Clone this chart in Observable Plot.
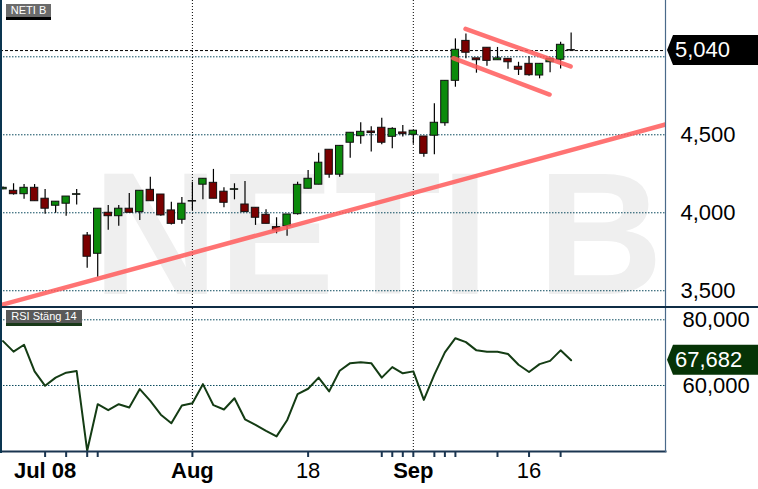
<!DOCTYPE html>
<html><head><meta charset="utf-8">
<script src="https://cdn.jsdelivr.net/npm/d3@7"></script>
<script src="https://cdn.jsdelivr.net/npm/@observablehq/plot@0.6"></script>
<style>
body{margin:0;background:#fff;font-family:"Liberation Sans",Arial,sans-serif;}
#wrap{position:relative;width:758px;height:489px;overflow:hidden;background:#fff;}
#wrap svg{display:block;position:absolute;left:0;}
.tag{position:absolute;color:#fff;font-size:11px;line-height:13px;height:13px;text-align:center;font-family:"Liberation Sans",Arial,sans-serif;}
#sep{position:absolute;left:0;top:306px;width:758px;height:2px;background:#0f2d45;}
</style></head><body><div id="wrap"></div>
<script>
const ticker = "NETI B";
const rsiName = "RSI Stäng 14";
// trading-day index 0..54
const open  = [4150,4141,4119,4160,4090,4045,4058,4115,3854,3737,4000,3978,4026,4004,4147,4117,4015,3955,4072,4180,4192,4135,4147,4053,4032,3987,3908,3914,3991,4154,4180,4404,4244,4449,4491,4521,4545,4487,4515,4500,4489,4494,4574,4846,5102,4990,5058,4978,4987,4936,4955,4880,4965,4981,5040];
const high  = [4165,4186,4181,4181,4149,4071,4104,4149,3874,4026,4047,4047,4124,4141,4228,4117,4068,4098,4196,4218,4278,4160,4186,4201,4032,4019,3968,3989,4196,4271,4382,4404,4429,4513,4577,4552,4606,4545,4560,4526,4489,4699,4846,5115,5147,4990,5058,5060,4987,4965,5000,4955,4990,5094,5152];
const low   = [4148,4113,4087,4074,3991,3997,3978,4049,3645,3587,3888,3914,3998,3951,4074,3978,3921,3927,4015,4083,4090,4032,4083,4004,3919,3929,3865,3850,3985,4154,4180,4222,4228,4350,4440,4390,4436,4411,4485,4440,4356,4372,4555,4805,4987,4895,4940,4978,4920,4880,4875,4859,4897,4921,5040];
const close = [4160,4119,4160,4074,4026,4071,4104,4119,3718,4026,3978,4026,4000,4141,4074,3983,3929,4058,4072,4218,4090,4064,4151,4004,3968,3929,3887,3989,4179,4218,4321,4244,4429,4513,4519,4511,4449,4538,4504,4526,4378,4577,4846,5045,5026,4978,4974,4990,4965,4917,4882,4955,4987,5077,5040];
const rsi = [73.5,70.3,72.4,64.3,59.9,62.4,63.9,64.4,40.1,54.3,52.5,54.3,53.3,58.9,55.3,51.1,48.5,53.9,54.6,60.4,54.0,52.7,56.1,49.7,48.0,46.2,44.5,49.4,57.4,59.0,62.4,58.2,64.5,66.8,67.1,66.8,62.4,65.6,63.7,64.3,55.6,63.3,70.1,74.4,73.2,70.7,70.3,70.3,69.6,66.3,64.1,66.5,67.5,70.7,67.682];
const priceGrid = [3500,4000,4500,5000];
const priceLabels = [3500,4000,4500];
const rsiTicks = [60,80];
const gridIdx = [18,39];
const tickIdx = [4,6,8,9,18,29,36,37,38,39,41,42,43,47,50,53];
const monthLabels = ["Jul 08","Aug","Sep"];
const monthIdx = [4,18,39];
const dayLabels = ["18","16"];
const dayIdx = [29,50];
const trendLong = [{i:-0.24,p:3408},{i:62.97,p:4566}];
const channelUpper = [{i:43.96,p:5179},{i:53.95,p:4938}];
const channelLower = [{i:42.8,p:4991},{i:51.95,p:4758}];

const idx = d3.range(open.length);
const candles = idx.map(i => ({i, o:open[i], h:high[i], l:low[i], c:close[i]}));
const lastClose = close[close.length-1];
const lastRsi = rsi[rsi.length-1];
const GREEN = "#0b8a0b", RED = "#7a0000";
const colorOf = d => d.c > d.o ? GREEN : d.c < d.o ? RED : "#000";
const fmtComma = d3.format(",");
const fmtDec = d => d3.format(".3f")(d).replace(".", ",");
const xDomain = [-0.24, 62.97];
const W = 758, MR = 93;
const FONT = "Liberation Sans, Arial, sans-serif";

function badge(value, fill, fmt) {
  return (index, scales, values, dimensions) => {
    const y = scales.y(value);
    const x0 = dimensions.width - dimensions.marginRight + 2;
    const g = d3.create("svg:g");
    g.append("path")
      .attr("d", `M${x0},${y} L${x0+6},${y-15} L${W},${y-15} L${W},${y+15} L${x0+6},${y+15} Z`)
      .attr("fill", fill);
    g.append("text").attr("x", x0+8).attr("y", y).attr("dy","0.33em")
      .attr("text-anchor","start")
      .attr("fill","#fff").attr("font-size",22).attr("font-family",FONT).text(fmt(value));
    return g.node();
  };
}

const trendStyle = {x:"i", y:"p", stroke:"#ff5a5a", strokeOpacity:0.85, strokeWidth:4.5, strokeLinecap:"round", clip:true};

const price = Plot.plot({
  width: W, height: 306, marginLeft: 0, marginRight: MR, marginTop: 0, marginBottom: 0,
  style: {fontFamily: FONT, background: "transparent"},
  x: {type: "linear", domain: xDomain, axis: null},
  y: {type: "linear", domain: [3399, 5361], axis: null},
  marks: [
    Plot.text([ticker], {frameAnchor: "middle", text: d => d, fontSize: 174, fontWeight: "bold", fill: "#efefef", dx: 45, dy: 85, clip: true}),
    Plot.ruleY(priceGrid, {stroke: "#0b4a5e", strokeDasharray: "1.5,1.5"}),
    Plot.ruleX(gridIdx, {stroke: "#000", strokeDasharray: "1,2"}),
    Plot.ruleY([lastClose], {stroke: "#000", strokeDasharray: "3,2"}),
    Plot.ruleX(candles, {x: "i", y1: "l", y2: "h", stroke: "#000", strokeWidth: 1.2, clip: true}),
    Plot.rect(candles, {x1: d => d.i - 0.35, x2: d => d.i + 0.35,
      y1: d => Math.min(d.o, d.c), y2: d => Math.max(d.o, d.c, Math.min(d.o, d.c) + 3),
      fill: colorOf, stroke: "#111", strokeWidth: 1, clip: true}),
    Plot.line(trendLong, trendStyle),
    Plot.line(channelUpper, trendStyle),
    Plot.line(channelLower, trendStyle),
    Plot.axisY(priceLabels, {anchor: "right", tickSize: 0, tickPadding: 15, tickFormat: fmtComma, fontSize: 22, fill: "#000"}),
    badge(lastClose, "#000", fmtComma),
    Plot.frame({anchor: "right", stroke: "#4a6a8a", strokeWidth: 1.2}),
    Plot.frame({anchor: "left", stroke: "#0a3550", strokeWidth: 3})
  ]
});

const rsiChart = Plot.plot({
  width: W, height: 181, marginLeft: 0, marginRight: MR, marginTop: 0, marginBottom: 38,
  style: {fontFamily: FONT, background: "transparent", overflow: "visible"},
  x: {type: "linear", domain: xDomain, axis: null},
  y: {type: "linear", domain: [39.9, 83.44], axis: null},
  marks: [
    Plot.ruleY(rsiTicks, {stroke: "#0b4a5e", strokeDasharray: "1.5,1.5"}),
    Plot.ruleX(gridIdx, {stroke: "#000", strokeDasharray: "1,2"}),
    Plot.line(idx, {x: i => i, y: i => rsi[i], stroke: "#143c14", strokeWidth: 2}),
    Plot.axisY(rsiTicks, {anchor: "right", tickSize: 0, tickPadding: 17, tickFormat: fmtDec, fontSize: 22, fill: "#000"}),
    badge(lastRsi, "#063306", fmtDec),
    Plot.axisX(tickIdx, {anchor: "bottom", tickSize: 6, tickFormat: () => "", stroke: "#1a3550", strokeWidth: 2}),
    Plot.text(monthIdx, {x: d => d, text: (d, k) => monthLabels[k], frameAnchor: "bottom", lineAnchor: "top", dy: 11, fontSize: 22, fontWeight: "bold", fill: "#000"}),
    Plot.text(dayIdx, {x: d => d, text: (d, k) => dayLabels[k], frameAnchor: "bottom", lineAnchor: "top", dy: 11, fontSize: 22, fill: "#000"}),
    Plot.frame({anchor: "bottom", stroke: "#1a3550", strokeWidth: 2}),
    Plot.frame({anchor: "right", stroke: "#4a6a8a", strokeWidth: 1.2}),
    Plot.frame({anchor: "left", stroke: "#0a3550", strokeWidth: 3})
  ]
});

const wrap = document.getElementById("wrap");
price.style.top = "0px";
rsiChart.style.top = "308px";
wrap.appendChild(price);
wrap.appendChild(rsiChart);
const sep = document.createElement("div"); sep.id = "sep"; wrap.appendChild(sep);
const t1 = document.createElement("div"); t1.className = "tag";
Object.assign(t1.style, {left: "6px", top: "4px", width: "45px", background: "#6b6b6b", borderBottom: "3px solid #000"});
t1.textContent = ticker; wrap.appendChild(t1);
const t2 = document.createElement("div"); t2.className = "tag";
Object.assign(t2.style, {left: "6px", top: "310px", width: "76px", background: "#595959", borderBottom: "3px solid #1a3a1a"});
t2.textContent = rsiName; wrap.appendChild(t2);
</script></body></html>
